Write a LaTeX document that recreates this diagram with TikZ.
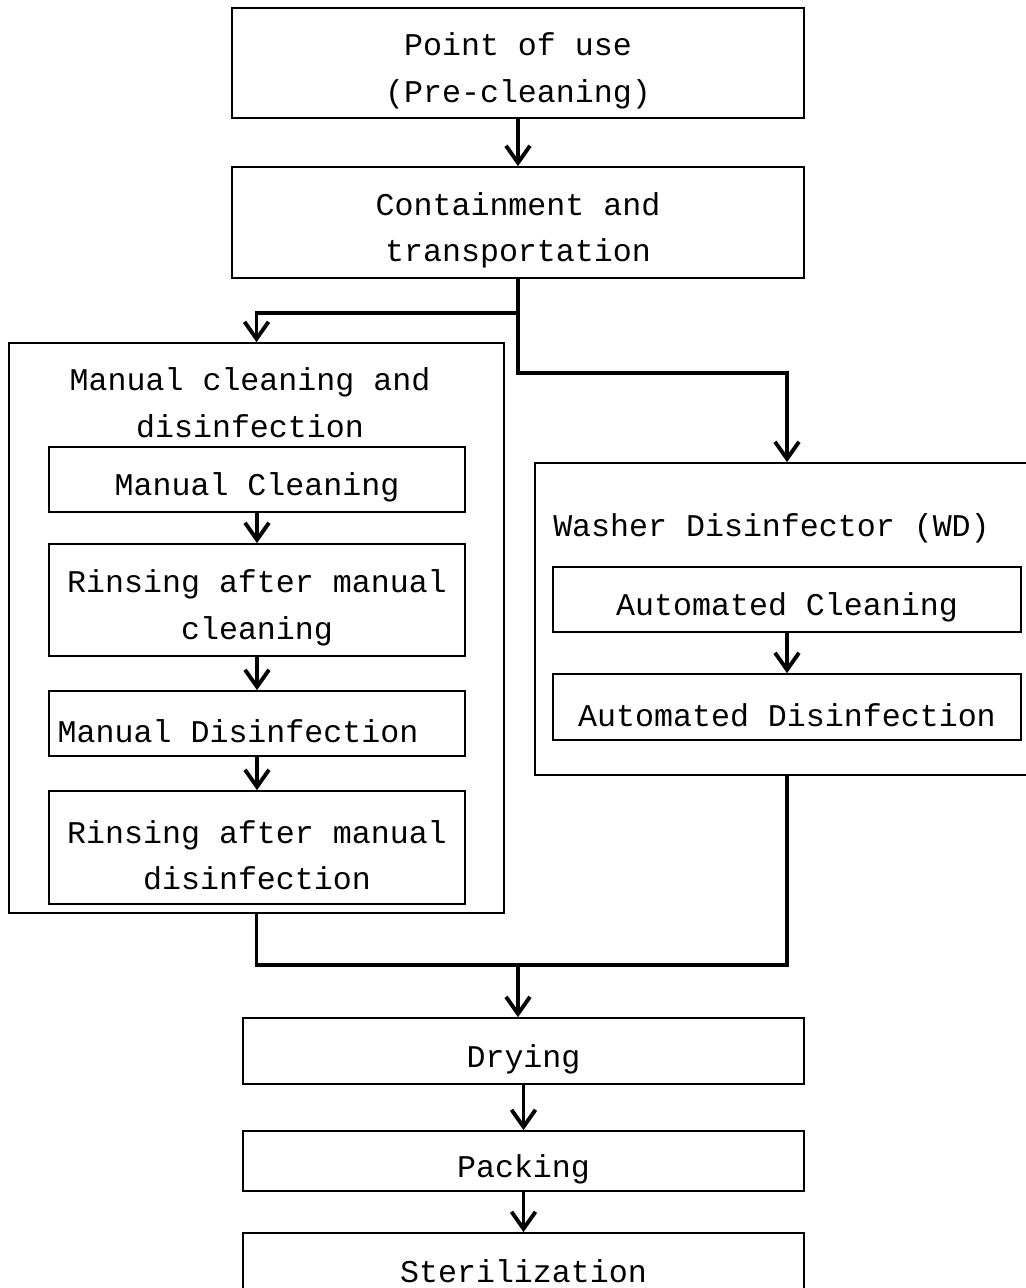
\documentclass[tikz,border=0pt]{standalone}
\usepackage{fontspec}
\setmonofont{Liberation Mono}
\usetikzlibrary{arrows.meta}
\newcommand\up{\rule{0pt}{22pt}}

\begin{document}
\begin{tikzpicture}[x=0.02cm, y=-0.02cm,
  every node/.style={font=\ttfamily\fontsize{18}{26.5}\selectfont, align=center, inner sep=0pt},
  stage/.style={draw, line width=1pt, minimum width=11.44cm},
  group/.style={draw, line width=1pt, minimum width=9.9cm},
  substage/.style={draw, line width=1pt, minimum width=8.32cm},
  wdstage/.style={draw, line width=1pt, minimum width=9.36cm},
  link/.style={line width=2.2pt, line join=miter},
  flow/.style={link, -{Straight Barb[length=0.34cm, width=0.48cm, line width=2.2pt]}}]
  \useasboundingbox (0,0) rectangle (1026,1288);

  % Collection of the instruments
  \node[stage, minimum height=2.2cm] (pou) at (518,63) {\up Point of use\\(Pre-cleaning)};
  \node[stage, minimum height=2.22cm] (cat) at (518,222.5) {\up Containment and\\transportation};

  % Manual route
  \node[group, minimum height=11.4cm] (mcd) at (256.5,628) {};
  \node (mcdtitle) at (250,403) {Manual cleaning and\\disinfection};
  \node[substage, minimum height=1.3cm] (mc) at (257,479.5) {\up Manual Cleaning};
  \node[substage, minimum height=2.24cm] (rmc) at (257,600) {\up Rinsing after manual\\cleaning};
  \node[substage, minimum height=1.3cm] (md) at (257,723.5) {\up Manual Disinfection\hphantom{xx}};
  \node[substage, minimum height=2.26cm] (rmd) at (257,847.5) {\up Rinsing after manual\\disinfection};

  % Automated route
  \node[group, minimum height=6.24cm] (wd) at (782.5,619) {};
  \node (wdtitle) at (771.5,528) {Washer Disinfector (WD)};
  \node[wdstage, minimum height=1.3cm] (ac) at (787,599.5) {\up Automated Cleaning};
  \node[wdstage, minimum height=1.32cm] (ad) at (787,707) {\up Automated Disinfection};

  % Final steps
  \node[stage, minimum width=11.22cm, minimum height=1.32cm] (dry) at (523.5,1051) {\up Drying};
  \node[stage, minimum width=11.22cm, minimum height=1.2cm] (pack) at (523.5,1161) {\up Packing};
  \node[stage, minimum width=11.22cm, minimum height=1.2cm] (ster) at (523.5,1263) {\up Sterilization};

  \coordinate (join) at (518,965);

  % Connectors
  \draw[flow] (pou) -- (cat);
  \draw[flow] (cat.south) -- ++(0,34) -| (mcd.north);
  \draw[flow] (cat.south) -- ++(0,94) -| (ac |- wd.north);
  \draw[flow] (mc) -- (rmc);
  \draw[flow] (rmc) -- (md);
  \draw[flow] (md) -- (rmd);
  \draw[flow] (ac) -- (ad);
  \draw[link] (mcd.south) |- (join) -| (wd.south -| ac);
  \draw[flow] (join) -- (join |- dry.north);
  \draw[flow] (dry) -- (pack);
  \draw[flow] (pack) -- (ster);
\end{tikzpicture}
\end{document}
